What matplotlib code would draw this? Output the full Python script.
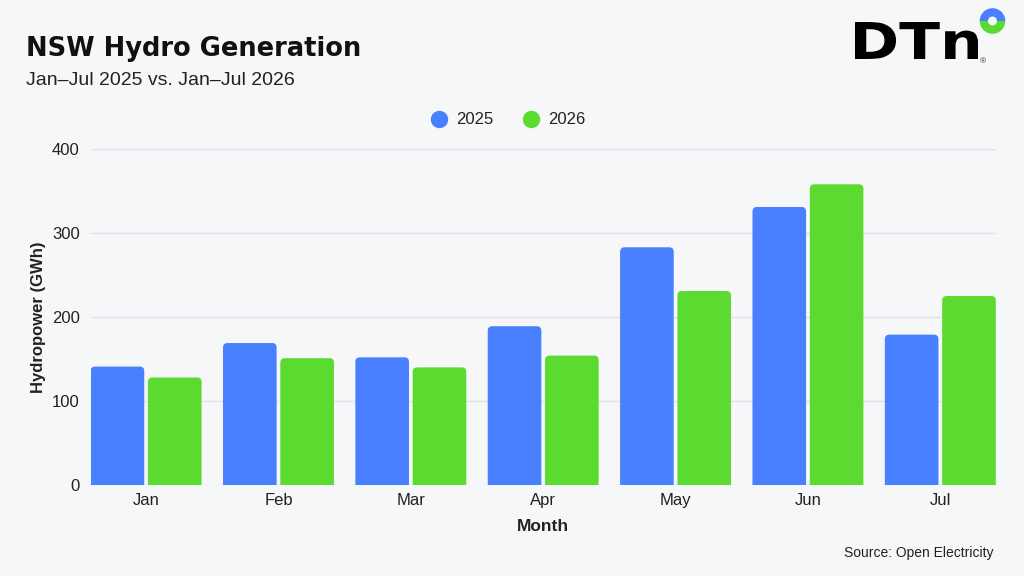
import matplotlib
matplotlib.use('Agg')
import matplotlib.pyplot as plt
import numpy as np
from matplotlib.patches import FancyBboxPatch, Wedge, PathPatch
from matplotlib.lines import Line2D
from matplotlib.textpath import TextPath
from matplotlib.font_manager import FontProperties
from matplotlib.transforms import Affine2D

# data (GWh)
months = ["Jan", "Feb", "Mar", "Apr", "May", "Jun", "Jul"]
gen_2025 = [141, 169, 152, 189, 283, 331, 179]
gen_2026 = [128, 151, 140, 154, 231, 358, 225]
series_names = ["2025", "2026"]

BG = '#f6f7f9'
BLUE = '#4880ff'
GREEN = '#5bdb30'
GRID = '#e0e2e6'
TXT = '#222222'

plt.rcParams['font.family'] = ['Liberation Sans', 'DejaVu Sans']

fig = plt.figure(figsize=(10.24, 5.76), dpi=100, facecolor=BG)
ax = fig.add_axes([90.7 / 1024, 91 / 576, 905 / 1024, 336 / 576])
ax.set_facecolor(BG)

x = np.arange(len(months))
w = 0.405
off = 0.2165
b1 = ax.bar(x - off, gen_2025, w, color=BLUE, label=series_names[0])
b2 = ax.bar(x + off, gen_2026, w, color=GREEN, label=series_names[1])

# swap plain bars for ones with rounded tops
r_px = 4.5
for bars in (b1, b2):
    for p in bars:
        p.set_visible(False)
        bx, by = p.get_x(), p.get_y()
        bw, bh = p.get_width(), p.get_height()
        rx = r_px / 132.6
        aspect = (r_px / 0.84) / rx
        fb = FancyBboxPatch((bx, by - 20), bw, bh + 20,
                            boxstyle="round,pad=0,rounding_size=%f" % rx,
                            mutation_aspect=aspect,
                            facecolor=p.get_facecolor(), edgecolor='none',
                            zorder=3)
        ax.add_patch(fb)

ax.set_xlim(-0.4185, 6.4185)
ax.set_ylim(0, 400)
ax.set_yticks([0, 100, 200, 300, 400])
ax.set_xticks(x)
ax.set_xticklabels(months)
ax.grid(axis='y', color=GRID, linewidth=1, zorder=0)
ax.set_axisbelow(True)
for s in ax.spines.values():
    s.set_visible(False)
ax.tick_params(length=0, labelsize=12, colors=TXT, pad=8)
ax.tick_params(axis='x', pad=6)

ax.set_ylabel("Hydropower (GWh)", fontsize=12, fontweight='bold', color=TXT, labelpad=4)
ax.set_xlabel("Month", fontsize=12.5, fontweight='bold', color=TXT, labelpad=8)

# titles
fig.text(26 / 1024, 1 - 56 / 576, "NSW Hydro Generation", fontsize=18.5, fontweight='bold',
         color='#111111', va='baseline', ha='left', family=['DejaVu Sans'])
fig.text(26 / 1024, 1 - 85 / 576, "Jan–Jul 2025 vs. Jan–Jul 2026", fontsize=14,
         color=TXT, va='baseline', ha='left')

# legend
handles = [Line2D([], [], marker='o', linestyle='none', markersize=11.5, color=BLUE),
           Line2D([], [], marker='o', linestyle='none', markersize=11.5, color=GREEN)]
fig.legend(handles, series_names, loc='center', bbox_to_anchor=(508 / 1024, 1 - 120 / 576),
           ncol=2, frameon=False, fontsize=12, handlelength=1.0, handletextpad=0.55,
           columnspacing=1.75, labelcolor=TXT)

# source
fig.text(993 / 1024, 1 - 553 / 576, "Source: Open Electricity", fontsize=10,
         color=TXT, va='center', ha='right')

# DTN logo (pixel-coordinate overlay)
lax = fig.add_axes([0, 0, 1, 1], facecolor='none')
lax.set_xlim(0, 1024)
lax.set_ylim(576, 0)
lax.axis('off')
tp = TextPath((0, 0), "DTn", size=1, prop=FontProperties(family='DejaVu Sans', weight='bold'))
ext = tp.get_extents()
sx = 123 / ext.width
sy = 37 / 0.729
tr = Affine2D().translate(-ext.x0, 0).scale(sx, -sy).translate(855, 59)
lax.add_patch(PathPatch(tr.transform_path(tp), facecolor='black', edgecolor='none'))
lax.text(983, 62, "®", fontsize=6, color='#333333', va='center', ha='center')
cx, cy = 992.5, 21
lax.add_patch(Wedge((cx, cy), 12.8, 180, 360, width=8.3, facecolor=BLUE, edgecolor='none'))
lax.add_patch(Wedge((cx, cy), 12.8, 0, 180, width=8.3, facecolor=GREEN, edgecolor='none'))

fig.savefig('out.png', dpi=100, facecolor=BG)
